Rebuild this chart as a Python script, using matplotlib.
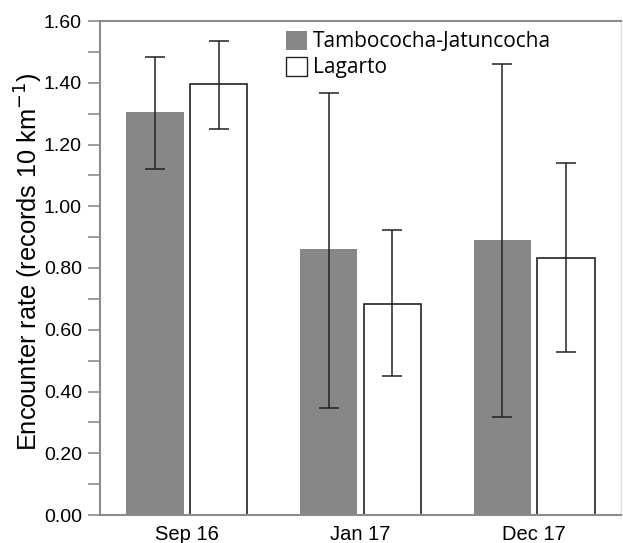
import matplotlib
matplotlib.use("Agg")
import matplotlib.pyplot as plt
from matplotlib.patches import Patch
import numpy as np

categories = ["Sep 16", "Jan 17", "Dec 17"]
series_names = ["Tambococha-Jatuncocha", "Lagarto"]
tj_values = [1.306, 0.860, 0.891]
tj_upper = [1.482, 1.366, 1.461]
tj_lower = [1.122, 0.346, 0.318]
lg_values = [1.396, 0.682, 0.833]
lg_upper = [1.536, 0.923, 1.141]
lg_lower = [1.249, 0.449, 0.529]
yticks = [0.0, 0.2, 0.4, 0.6, 0.8, 1.0, 1.2, 1.4, 1.6]

W, H = 623, 543
fig = plt.figure(figsize=(W / 100, H / 100), dpi=100)
ax = fig.add_axes([100 / W, (H - 515) / H, (621 - 100) / W, (515 - 21) / H])

x = np.arange(len(categories))
bw = 0.33
off = 0.183
spine_c = "#8c8c8c"

tj = np.array(tj_values)
lg = np.array(lg_values)
tj_err = [tj - np.array(tj_lower), np.array(tj_upper) - tj]
lg_err = [lg - np.array(lg_lower), np.array(lg_upper) - lg]

ax.bar(x - off, tj, bw, color="#878787", edgecolor="none", zorder=2)
ax.bar(x + off, lg, bw, color="white", edgecolor="#222222", linewidth=1.2, zorder=2)
ax.errorbar(x - off, tj, yerr=tj_err, fmt="none", ecolor="#222222", elinewidth=1.1,
            capsize=7, capthick=1.1, zorder=3)
ax.errorbar(x + off, lg, yerr=lg_err, fmt="none", ecolor="#222222", elinewidth=1.1,
            capsize=7, capthick=1.1, zorder=3)

ax.set_xlim(-0.5, 2.5)
ax.set_ylim(0, 1.6)
ax.set_yticks(yticks)
ax.set_yticklabels([f"{v:.2f}" for v in yticks], fontfamily="Liberation Sans", fontsize=14)
ax.set_yticks(np.arange(0.1, 1.6, 0.2), minor=True)
ax.set_xticks(x)
ax.set_xticklabels(categories, fontfamily="Liberation Sans", fontsize=14.5)
ax.tick_params(axis="x", length=0, pad=7)
ax.tick_params(axis="y", which="both", length=9, width=1.2, color=spine_c, direction="out", pad=4)

ax.set_ylabel("Encounter rate (records 10 km$^{-1}$)", fontfamily="Liberation Sans",
              fontsize=18.3)
ax.yaxis.set_label_coords(-0.106, 0.513)

for s in ["left", "bottom", "top"]:
    ax.spines[s].set_color(spine_c)
    ax.spines[s].set_linewidth(1.5)
ax.spines["right"].set_color("#dddddd")
ax.spines["right"].set_linewidth(1.0)

handles = [Patch(facecolor="#878787", edgecolor="none", label=series_names[0]),
           Patch(facecolor="white", edgecolor="#222222", linewidth=1.0, label=series_names[1])]
leg = ax.legend(handles=handles, loc="upper left",
                bbox_to_anchor=((286 - 100) / 521, (515 - 31) / 494),
                frameon=False, prop={"family": "Open Sans", "size": 15},
                handlelength=1.0, handleheight=1.0, handletextpad=0.3,
                labelspacing=0.22, borderaxespad=0.0, borderpad=0.0)

fig.savefig("out.png", dpi=100)
